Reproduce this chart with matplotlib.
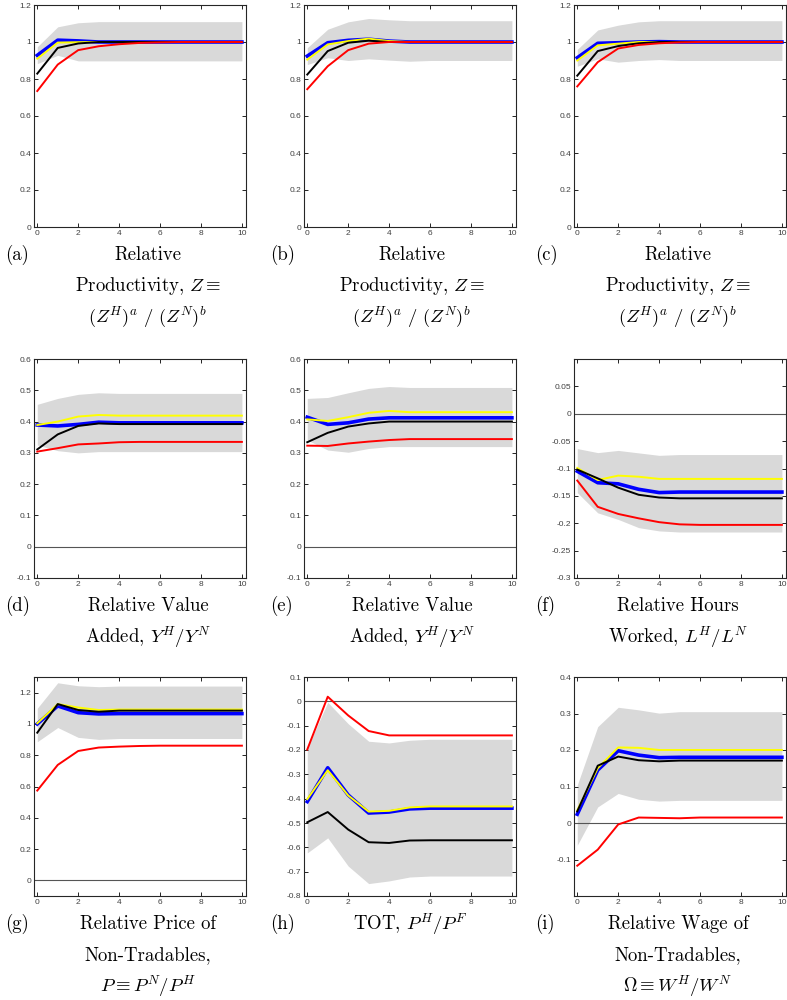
import numpy as np
import matplotlib
matplotlib.use("Agg")
import matplotlib.pyplot as plt

plt.rcParams['axes.unicode_minus'] = False
plt.rcParams['mathtext.fontset'] = 'cm'

x = np.arange(11)

# (a) relative productivity, first variant
a_lo = [0.883, 0.928, 0.898, 0.898, 0.898, 0.898, 0.898, 0.898, 0.898, 0.898, 0.898]
a_hi = [0.974, 1.082, 1.104, 1.11, 1.11, 1.11, 1.11, 1.11, 1.11, 1.11, 1.11]
a_blue = [0.928, 1.01, 1.006, 1.0, 1.0, 1.0, 1.0, 1.0, 1.0, 1.0, 1.0]
a_yellow = [0.91, 0.997, 0.999, 1.0, 1.0, 1.0, 1.0, 1.0, 1.0, 1.0, 1.0]
a_black = [0.829, 0.968, 0.992, 1.0, 1.0, 1.0, 1.0, 1.0, 1.0, 1.0, 1.0]
a_red = [0.735, 0.878, 0.956, 0.977, 0.988, 0.995, 0.998, 1.0, 1.0, 1.0, 1.0]

# (b)
b_lo = [0.878, 0.915, 0.9, 0.909, 0.902, 0.896, 0.9, 0.9, 0.9, 0.9, 0.9]
b_hi = [0.969, 1.069, 1.109, 1.127, 1.12, 1.115, 1.115, 1.115, 1.115, 1.115, 1.115]
b_blue = [0.924, 0.996, 1.009, 1.015, 1.005, 1.0, 1.0, 1.0, 1.0, 1.0, 1.0]
b_yellow = [0.905, 0.987, 1.005, 1.018, 1.005, 1.0, 1.0, 1.0, 1.0, 1.0, 1.0]
b_black = [0.824, 0.951, 0.996, 1.007, 1.0, 1.0, 1.0, 1.0, 1.0, 1.0, 1.0]
b_red = [0.745, 0.869, 0.956, 0.991, 1.0, 1.0, 1.0, 1.0, 1.0, 1.0, 1.0]

# (c)
c_lo = [0.869, 0.909, 0.891, 0.9, 0.905, 0.9, 0.9, 0.9, 0.9, 0.9, 0.9]
c_hi = [0.96, 1.065, 1.091, 1.109, 1.115, 1.115, 1.115, 1.115, 1.115, 1.115, 1.115]
c_blue = [0.915, 0.993, 0.996, 1.0, 1.002, 1.0, 1.0, 1.0, 1.0, 1.0, 1.0]
c_yellow = [0.9, 0.982, 0.991, 1.0, 1.0, 1.0, 1.0, 1.0, 1.0, 1.0, 1.0]
c_black = [0.818, 0.951, 0.978, 0.993, 1.0, 1.0, 1.0, 1.0, 1.0, 1.0, 1.0]
c_red = [0.76, 0.891, 0.965, 0.984, 0.993, 0.998, 1.0, 1.0, 1.0, 1.0, 1.0]

# (d) relative value added
d_lo = [0.325, 0.307, 0.30, 0.304, 0.304, 0.304, 0.304, 0.304, 0.304, 0.304, 0.304]
d_hi = [0.455, 0.474, 0.487, 0.492, 0.49, 0.49, 0.49, 0.49, 0.49, 0.49, 0.49]
d_blue = [0.389, 0.386, 0.391, 0.398, 0.396, 0.396, 0.396, 0.396, 0.396, 0.396, 0.396]
d_yellow = [0.389, 0.4, 0.416, 0.421, 0.419, 0.419, 0.419, 0.419, 0.419, 0.419, 0.419]
d_black = [0.311, 0.359, 0.386, 0.394, 0.392, 0.392, 0.392, 0.392, 0.392, 0.392, 0.392]
d_red = [0.304, 0.315, 0.327, 0.33, 0.334, 0.335, 0.335, 0.335, 0.335, 0.335, 0.335]

# (e)
e_lo = [0.341, 0.309, 0.302, 0.314, 0.32, 0.32, 0.32, 0.32, 0.32, 0.32, 0.32]
e_hi = [0.474, 0.477, 0.492, 0.506, 0.512, 0.509, 0.509, 0.509, 0.509, 0.509, 0.509]
e_blue = [0.414, 0.391, 0.396, 0.408, 0.412, 0.412, 0.412, 0.412, 0.412, 0.412, 0.412]
e_yellow = [0.407, 0.402, 0.414, 0.428, 0.434, 0.43, 0.43, 0.43, 0.43, 0.43, 0.43]
e_black = [0.334, 0.364, 0.384, 0.394, 0.4, 0.4, 0.4, 0.4, 0.4, 0.4, 0.4]
e_red = [0.323, 0.322, 0.33, 0.336, 0.341, 0.344, 0.344, 0.344, 0.344, 0.344, 0.344]

# (f) relative hours worked
f_lo = [-0.144, -0.181, -0.193, -0.208, -0.214, -0.216, -0.216, -0.216, -0.216, -0.216, -0.216]
f_hi = [-0.0636, -0.071, -0.067, -0.0715, -0.076, -0.0745, -0.0745, -0.0745, -0.0745, -0.0745, -0.0745]
f_blue = [-0.105, -0.126, -0.128, -0.138, -0.144, -0.143, -0.143, -0.143, -0.143, -0.143, -0.143]
f_yellow = [-0.099, -0.121, -0.113, -0.115, -0.119, -0.119, -0.119, -0.119, -0.119, -0.119, -0.119]
f_black = [-0.102, -0.118, -0.135, -0.148, -0.153, -0.1545, -0.1545, -0.1545, -0.1545, -0.1545, -0.1545]
f_red = [-0.122, -0.17, -0.183, -0.191, -0.198, -0.202, -0.203, -0.203, -0.203, -0.203, -0.203]

# (g) relative price of non-tradables
g_lo = [0.886, 0.977, 0.914, 0.901, 0.907, 0.907, 0.907, 0.907, 0.907, 0.907, 0.907]
g_hi = [1.1, 1.263, 1.244, 1.238, 1.242, 1.242, 1.242, 1.242, 1.242, 1.242, 1.242]
g_blue = [1.0, 1.115, 1.072, 1.064, 1.066, 1.066, 1.066, 1.066, 1.066, 1.066, 1.066]
g_yellow = [1.004, 1.127, 1.105, 1.089, 1.092, 1.092, 1.092, 1.092, 1.092, 1.092, 1.092]
g_black = [0.944, 1.127, 1.089, 1.078, 1.085, 1.085, 1.085, 1.085, 1.085, 1.085, 1.085]
g_red = [0.574, 0.738, 0.827, 0.849, 0.855, 0.859, 0.861, 0.861, 0.861, 0.861, 0.861]

# (h) terms of trade
h_lo = [-0.623, -0.561, -0.677, -0.749, -0.738, -0.722, -0.718, -0.718, -0.718, -0.718, -0.718]
h_hi = [-0.192, -0.004, -0.092, -0.164, -0.171, -0.16, -0.156, -0.156, -0.156, -0.156, -0.156]
h_blue = [-0.412, -0.273, -0.385, -0.459, -0.455, -0.442, -0.439, -0.439, -0.439, -0.439, -0.439]
h_yellow = [-0.402, -0.283, -0.387, -0.453, -0.45, -0.436, -0.432, -0.432, -0.432, -0.432, -0.432]
h_black = [-0.497, -0.455, -0.527, -0.579, -0.582, -0.572, -0.571, -0.571, -0.571, -0.571, -0.571]
h_red = [-0.198, 0.019, -0.058, -0.122, -0.14, -0.14, -0.14, -0.14, -0.14, -0.14, -0.14]

# (i) relative wage of non-tradables
i_lo = [-0.061, 0.044, 0.081, 0.065, 0.06, 0.062, 0.062, 0.062, 0.062, 0.062, 0.062]
i_hi = [0.104, 0.264, 0.317, 0.31, 0.301, 0.305, 0.305, 0.305, 0.305, 0.305, 0.305]
i_blue = [0.024, 0.145, 0.198, 0.186, 0.179, 0.18, 0.18, 0.18, 0.18, 0.18, 0.18]
i_yellow = [0.035, 0.15, 0.207, 0.206, 0.2, 0.2, 0.2, 0.2, 0.2, 0.2, 0.2]
i_black = [0.032, 0.157, 0.182, 0.172, 0.169, 0.171, 0.171, 0.171, 0.171, 0.171, 0.171]
i_red = [-0.117, -0.073, -0.004, 0.015, 0.014, 0.013, 0.015, 0.015, 0.015, 0.015, 0.015]

panels = [
    (a_lo, a_hi, a_blue, a_yellow, a_black, a_red, (0, 1.2), np.arange(0, 1.21, 0.2), False),
    (b_lo, b_hi, b_blue, b_yellow, b_black, b_red, (0, 1.2), np.arange(0, 1.21, 0.2), False),
    (c_lo, c_hi, c_blue, c_yellow, c_black, c_red, (0, 1.2), np.arange(0, 1.21, 0.2), False),
    (d_lo, d_hi, d_blue, d_yellow, d_black, d_red, (-0.1, 0.6), np.arange(-0.1, 0.61, 0.1), True),
    (e_lo, e_hi, e_blue, e_yellow, e_black, e_red, (-0.1, 0.6), np.arange(-0.1, 0.61, 0.1), True),
    (f_lo, f_hi, f_blue, f_yellow, f_black, f_red, (-0.3, 0.1), np.arange(-0.3, 0.051, 0.05), True),
    (g_lo, g_hi, g_blue, g_yellow, g_black, g_red, (-0.1, 1.3), np.arange(0, 1.21, 0.2), True),
    (h_lo, h_hi, h_blue, h_yellow, h_black, h_red, (-0.8, 0.1), np.arange(-0.8, 0.11, 0.1), True),
    (i_lo, i_hi, i_blue, i_yellow, i_black, i_red, (-0.2, 0.4), np.arange(-0.1, 0.41, 0.1), True),
]

zline = r"$\left(Z^{H}_{\ }\right)^{a}\ /\ \left(Z^{N}_{\ }\right)^{b}$"
captions = [
    ("(a)", ["Relative", r"Productivity, $Z \equiv$", zline]),
    ("(b)", ["Relative", r"Productivity, $Z \equiv$", zline]),
    ("(c)", ["Relative", r"Productivity, $Z \equiv$", zline]),
    ("(d)", ["Relative Value", r"Added, $Y^H/Y^N$"]),
    ("(e)", ["Relative Value", r"Added, $Y^H/Y^N$"]),
    ("(f)", ["Relative Hours", r"Worked, $L^H/L^N$"]),
    ("(g)", ["Relative Price of", "Non-Tradables,", r"$P \equiv P^N/P^H$"]),
    ("(h)", [r"TOT, $P^H/P^F$"]),
    ("(i)", ["Relative Wage of", "Non-Tradables,", r"$\Omega \equiv W^H/W^N$"]),
]

fig = plt.figure(figsize=(7.87, 10), dpi=100)

col_left = [34, 304, 574]
row_top = [5, 359, 677]
row_bot = [227, 578, 896]
W, H = 787.0, 1000.0
cap_x_label = [5, 270, 535]
cap_x_text = [148, 412, 678]

for k, (lo, hi, bl, ye, bk, rd, ylim, yt, zero) in enumerate(panels):
    r, c = divmod(k, 3)
    ax = fig.add_axes([col_left[c] / W, 1 - row_bot[r] / H,
                       212 / W, (row_bot[r] - row_top[r]) / H])
    ax.fill_between(x, lo, hi, color='#d9d9d9', lw=0)
    if zero:
        ax.axhline(0, color='#555555', lw=0.8)
    ax.plot(x, bl, color='#0000ff', lw=2.6)
    ax.plot(x, ye, color='#ffff00', lw=1.4)
    ax.plot(x, bk, color='black', lw=1.4)
    ax.plot(x, rd, color='#ff0000', lw=1.4)
    ax.set_xlim(-0.16, 10.2)
    ax.set_ylim(*ylim)
    ax.set_xticks(range(0, 11, 2))
    yt = np.round(yt, 2) + 0.0
    ax.set_yticks(yt)
    ax.set_yticklabels(['%g' % (v if abs(v) > 1e-9 else 0.0) for v in yt])
    ax.tick_params(direction='in', top=True, right=True, length=3, width=0.6,
                   labelsize=6, labelcolor='#404040', pad=2)
    for lab in ax.get_xticklabels() + ax.get_yticklabels():
        lab.set_family('Liberation Sans')
    for s in ax.spines.values():
        s.set_linewidth(0.8)
        s.set_color('#262626')

    tag, lines = captions[k]
    y0 = row_bot[r] + 28
    fig.text(cap_x_label[c] / W, 1 - y0 / H, tag, family='cmr10', fontsize=13.5,
             ha='left', va='center')
    for j, line in enumerate(lines):
        xt = cap_x_text[c] if len(lines) > 1 else cap_x_label[c] + 140
        fig.text(xt / W, 1 - (y0 + 31 * j) / H, line, family='cmr10',
                 fontsize=13.5, ha='center', va='center')

fig.savefig('out.png', dpi=100)
